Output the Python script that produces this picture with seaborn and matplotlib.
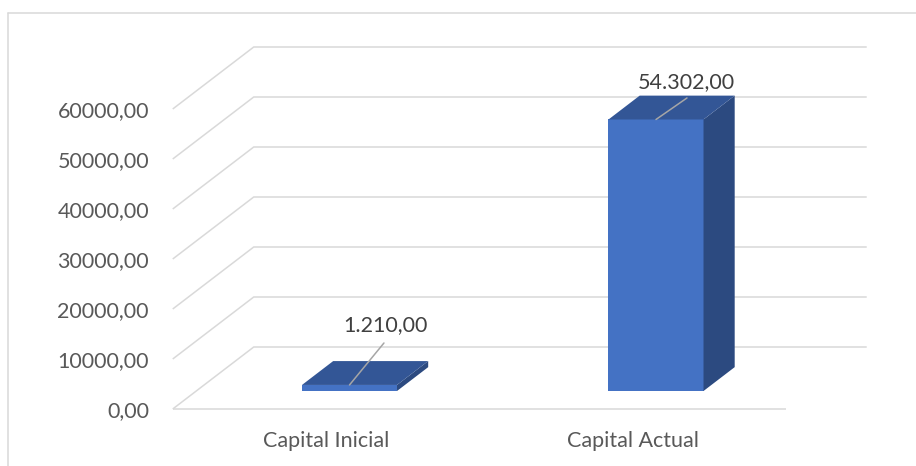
import matplotlib
matplotlib.use("Agg")
import matplotlib.pyplot as plt
import seaborn as sns
from matplotlib.patches import Polygon
from matplotlib.lines import Line2D

# Datos
categorias = ["Capital Inicial", "Capital Actual"]
capital = [1210.00, 54302.00]
ticks_valor = [0, 10000, 20000, 30000, 40000, 50000, 60000]


def fmt_eje(v):
    return f"{v:.2f}".replace(".", ",")


def fmt_dato(v):
    s = f"{v:,.2f}"
    return s.replace(",", "_").replace(".", ",").replace("_", ".")


W, H, DPI = 916, 466, 100
sns.set_theme(style="white")
plt.rcParams["font.family"] = ["Lato", "DejaVu Sans"]
FS = 15.5
C_TXT = "#595959"
C_LBL = "#404040"
C_GRID = "#D9D9D9"

fig = plt.figure(figsize=(W / DPI, H / DPI), dpi=DPI)
fig.patch.set_facecolor("white")

# Escala de pantalla: categoria 0 y valor 0 en el plano de las barras
X0, SX = 349.5, 306.5
Y0, SY = 391.0, 0.005
L, R, T, B = 158, 916, 0, 425
ax = fig.add_axes([L / W, (H - B) / H, (R - L) / W, (B - T) / H])

# Profundidad oblicua en unidades de datos
DX = 81 / SX
DY = 62 / SY
F0 = 18 / 62        # posicion del plano de las barras dentro del fondo
BD = 0.385          # fondo de cada barra

sns.barplot(x=categorias, y=capital, width=0.31, color="#4472C4",
            saturation=1, linewidth=0, ax=ax, zorder=3)

# Caras superior y lateral de las barras
C_TOP = "#335696"
C_SIDE = "#2C4A80"
half = 0.31 / 2
for i, v in enumerate(capital):
    x0, x1 = i - half, i + half
    top = [(x0, v), (x1, v), (x1 + BD * DX, v + BD * DY), (x0 + BD * DX, v + BD * DY)]
    side = [(x1, 0), (x1, v), (x1 + BD * DX, v + BD * DY), (x1 + BD * DX, BD * DY)]
    ax.add_patch(Polygon(side, closed=True, facecolor=C_SIDE, edgecolor="none", zorder=3))
    ax.add_patch(Polygon(top, closed=True, facecolor=C_TOP, edgecolor="none", zorder=3))

# Lineas de division en perspectiva
xa, xb = -0.5, len(categorias) - 0.5
for v in ticks_valor:
    px = [xa - F0 * DX, xa + (1 - F0) * DX, xb + (1 - F0) * DX]
    py = [v - F0 * DY, v + (1 - F0) * DY, v + (1 - F0) * DY]
    ax.plot(px, py, color=C_GRID, lw=1.1, zorder=1, clip_on=False,
            solid_capstyle="butt")
ax.plot([xa - F0 * DX, xb - F0 * DX], [-F0 * DY, -F0 * DY], color=C_GRID,
        lw=1.1, zorder=1, clip_on=False, solid_capstyle="butt")

# Etiquetas de datos con linea guia
guia = [(24.8, 30.2), (22.3, 15.5)]
texto = [(25.6, 43.2), (22.0, 27.0)]
for i, v in enumerate(capital):
    ax.annotate("", xy=(i, v), xytext=guia[i], textcoords="offset points",
                arrowprops=dict(arrowstyle="-", color="#A6A6A6", lw=1.1,
                                shrinkA=0, shrinkB=0), zorder=4)
    ax.annotate(fmt_dato(v), xy=(i, v), xytext=texto[i], textcoords="offset points",
                ha="center", va="center", fontsize=FS, color=C_LBL, zorder=5)

# Ejes
ax.set_yticks([v - F0 * DY for v in ticks_valor])
ax.set_yticklabels([fmt_eje(v) for v in ticks_valor])
ax.set_xticks([i - F0 * DX for i in range(len(categorias))])
ax.set_xticklabels(categorias)
ax.tick_params(axis="y", length=0, pad=6.5, labelsize=FS, labelcolor=C_TXT)
ax.tick_params(axis="x", length=0, pad=4, labelsize=FS, labelcolor=C_TXT)
ax.set_xlabel("")
ax.set_ylabel("")
ax.set_xlim((L - X0) / SX, (R - X0) / SX)
ax.set_ylim((Y0 - B) / SY, (Y0 - T) / SY)
for s in ax.spines.values():
    s.set_visible(False)
ax.set_facecolor("none")

# Marco del grafico
fig.add_artist(Line2D([8 / W, 8 / W], [0, 1 - 13 / H], transform=fig.transFigure,
                      color=C_GRID, lw=1.1))
fig.add_artist(Line2D([8 / W, 1], [1 - 13 / H, 1 - 13 / H], transform=fig.transFigure,
                      color=C_GRID, lw=1.1))

fig.savefig("out.png", dpi=DPI)
